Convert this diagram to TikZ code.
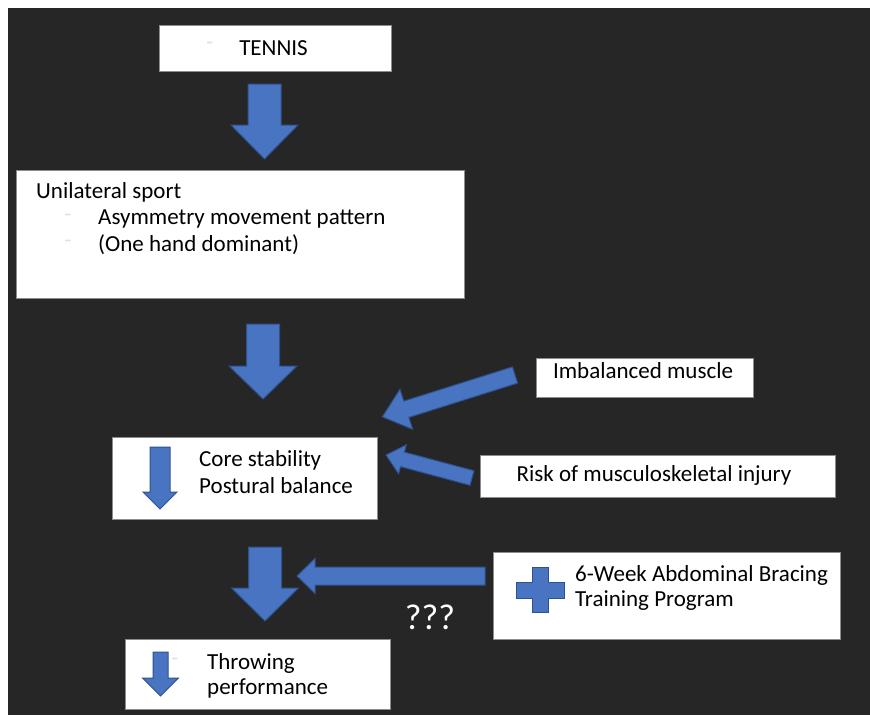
\documentclass[tikz,border=0pt]{standalone}
\usepackage{fontspec}
\setmainfont{Carlito}
\begin{document}
\begin{tikzpicture}[x=1pt,y=-1pt,
  box/.style={draw=black!45, line width=0.6pt, fill=white, inner sep=0pt},
  blk/.style={fill=blueA, draw=blueB, line width=1pt, line join=miter},
  txt/.style={font=\fontsize{23}{27}\selectfont, text=black, inner sep=0pt},
  faint/.style={font=\fontsize{23}{27}\selectfont, text=black!12, inner sep=0pt}]
\definecolor{blueA}{HTML}{4874C2}
\definecolor{blueB}{HTML}{2F528F}
\definecolor{bgc}{HTML}{262626}
\newcommand\barrow[7]{%
 \begin{scope}[shift={(#1,#2)}, rotate=#3]
 \draw[blk] (0,-#5) -- (#4-#7,-#5) -- (#4-#7,-#6) -- (#4,0) -- (#4-#7,#6) -- (#4-#7,#5) -- (0,#5) -- cycle;
 \end{scope}}
\useasboundingbox (0,0) rectangle (870,715);
\fill[white] (0,0) rectangle (870,715);
\fill[bgc] (8,8) rectangle (870,715);
% boxes
\node[box, minimum width=232pt, minimum height=46pt] (tennis) at (275,48) {};
\node[txt] (tt) at (273.5,48) {TENNIS};
\node[faint] at (210,46) {-};
\node[box, minimum width=448pt, minimum height=128pt] (uni) at (240,234) {};
\node[txt, anchor=west] (u1) at (36,192) {Unilateral sport};
\node[txt, anchor=west] (u2) at (98,219) {Asymmetry movement pattern};
\node[txt, anchor=west] (u3) at (98,245) {(One hand dominant)};
\node[faint] at (68,218) {-};
\node[faint] at (68,244) {-};
\node[box, minimum width=265pt, minimum height=82pt] (core) at (244.5,478) {};
\node[txt, anchor=west] (c1) at (199,460) {Core stability};
\node[txt, anchor=west] (c2) at (199,486) {Postural balance};
\node[box, minimum width=217pt, minimum height=39pt] (imb) at (644.5,377.5) {};
\node[txt] at (643,371) {Imbalanced muscle};
\node[box, minimum width=355pt, minimum height=42pt] (risk) at (657.5,476) {};
\node[txt] at (654,475) {Risk of musculoskeletal injury};
\node[box, minimum width=347pt, minimum height=87pt] (train) at (666.5,595.5) {};
\node[txt, anchor=west] (t1) at (575,575) {6-Week Abdominal Bracing};
\node[txt, anchor=west] (t2) at (575,601) {Training Program};
\node[box, minimum width=265pt, minimum height=70pt] (throw) at (257.5,674) {};
\node[txt, anchor=west] (h1) at (207,663) {Throwing};
\node[txt, anchor=west] (h2) at (207,688) {performance};
\node[faint] at (175,662) {-};
\node[font=\fontsize{36}{40}\selectfont, text=white, inner sep=0pt] (q) at (430,617) {???};
% block arrows
\barrow{264.5}{84}{-90}{75}{16.5}{33.5}{34}
\barrow{263}{324}{-90}{75}{16.5}{34}{33}
\barrow{265}{547}{-90}{74}{16.5}{33.5}{33}
\barrow{485}{576}{180}{188}{9}{17.5}{18}
\barrow{515}{375}{197.5}{139}{8.5}{21}{25}
\barrow{472}{478}{165}{89}{7.5}{15}{17}
\barrow{160}{447}{-90}{62}{10}{17}{17}
\barrow{160.5}{652}{-90}{44}{7.5}{18}{18}
% plus
\draw[blk] (532,567) -- (548,567) -- (548,582) -- (564,582) -- (564,598) -- (548,598) -- (548,612) -- (532,612) -- (532,598) -- (516,598) -- (516,582) -- (532,582) -- cycle;
\end{tikzpicture}
\end{document}
